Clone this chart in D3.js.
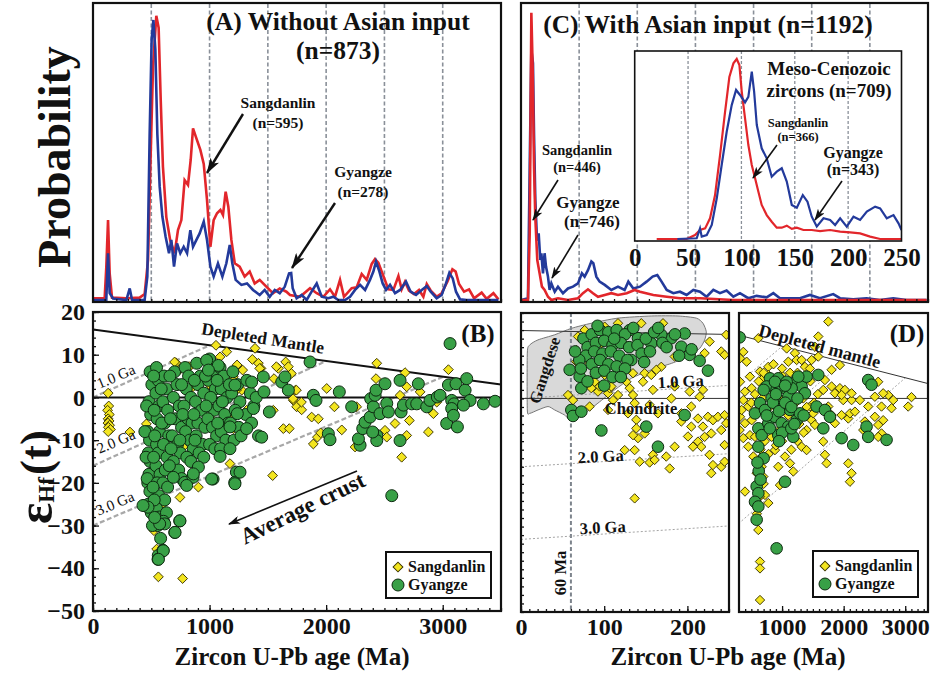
<!DOCTYPE html>
<html>
<head>
<meta charset="UTF-8">
<script src="https://d3js.org/d3.v7.min.js"></script>
<style>
  body { margin: 0; background: #fff; }
  svg text { font-family: "Liberation Serif", "Times New Roman", serif; font-weight: bold; fill: #111; }
</style>
</head>
<body>
<div id="chart"></div>
<script>
// ---- probability curves, [age Ma, relative probability 0-100] ----
const redA = [[0,0.6],[100,0.6],[114,11],[129,27],[143,9],[163,0.8],[286,0.6],[400,0.8],[443,2],[472,13.5],[492,45],[515,79],[543,96],[563,92],[581,67.5],[600,45],[629,28],[663,20],[700,15.8],[729,23.6],[758,27],[786,40.5],[815,38.9],[838,47.3],[858,58],[887,54.6],[921,50.7],[950,46],[978,33.8],[1007,18],[1035,27],[1064,29.3],[1093,30.4],[1115,28.7],[1138,36.6],[1161,31.5],[1187,20.3],[1216,12.4],[1258,11.3],[1301,7.9],[1344,9.6],[1387,5.6],[1430,6.8],[1487,4.5],[1544,2.3],[1602,3.9],[1659,2.8],[1690,1.7],[1776,1.1],[1862,4],[1919,2.3],[1976,1.1],[2033,3.6],[2076,1.1],[2119,6.8],[2153,1.1],[2219,4],[2262,4.3],[2305,8.8],[2348,6.8],[2391,12.2],[2419,13.8],[2448,12.6],[2491,8.1],[2534,3.6],[2577,3.4],[2620,8.1],[2648,3.6],[2677,6.2],[2711,3.2],[2754,2],[2797,3.4],[2834,1.1],[2863,5.4],[2897,3.2],[2948,1.1],[2991,2.3],[3040,6.2],[3083,10.4],[3111,9.6],[3140,5.4],[3183,2.8],[3226,3.6],[3269,0.6],[3334,2.5],[3377,0.4],[3435,2.3],[3478,0.2]];
const blueA = [[0,0],[114,0],[129,15.8],[143,2.3],[172,0.5],[286,0],[315,3.9],[335,0],[443,0],[466,7.9],[486,56],[503,88],[518,94.6],[535,84.5],[552,56],[572,38.3],[595,28.2],[623,21.4],[652,15.8],[672,20.3],[695,11.3],[721,19.1],[749,15.8],[778,18],[807,15.8],[835,23.6],[858,18],[887,20.3],[915,22.5],[950,26.5],[978,20.3],[1007,11.3],[1035,7.9],[1072,12.4],[1110,7.9],[1144,12.4],[1173,18.6],[1195,12.4],[1224,6.8],[1273,5.1],[1321,5.6],[1373,3.4],[1430,1.7],[1473,3.4],[1516,1.1],[1559,3.4],[1602,2.3],[1645,4.5],[1682,9],[1700,9.1],[1713,4],[1747,0.6],[1790,1.7],[1833,0],[1884,3.4],[1919,5.6],[1962,1.1],[2019,0.6],[2062,1.1],[2105,0],[2162,0],[2205,1.1],[2248,3.4],[2291,5.1],[2334,3.4],[2376,6.8],[2405,9.6],[2428,13],[2457,9.6],[2485,5.6],[2514,3.4],[2548,5.1],[2591,2.3],[2634,3.4],[2685,6.2],[2725,2.8],[2771,1.7],[2820,3.4],[2863,4.7],[2897,2.8],[2948,0.6],[2991,1.7],[3028,5.6],[3057,9.2],[3086,7.3],[3114,2.8],[3149,0.2],[3206,0],[3478,0]];
const redC = [[0,0],[60,0],[75,22.5],[89,97],[100,79],[112,45],[123,28],[140,13.5],[160,9],[180,4.5],[203,3.4],[232,1.1],[261,0],[318,0.6],[404,0],[490,0.6],[533,2.3],[576,3.6],[619,2.3],[662,1.1],[720,1.7],[777,2.3],[834,1.7],[909,2.3],[977,3.4],[1023,2.8],[1138,1.7],[1253,1.1],[1367,0.6],[1539,0.6],[1826,0],[2399,0],[3488,0]];
const blueC = [[0,0],[60,0.6],[75,45],[89,84.5],[103,80],[112,56],[123,34],[138,20],[152,22.5],[166,13.5],[175,15.8],[189,9],[203,15.8],[215,11.3],[232,7.9],[246,3.4],[261,5.6],[290,2.8],[318,4.5],[361,2.3],[404,3.9],[447,4.5],[490,5.6],[524,9],[547,7.9],[576,10.1],[605,13],[622,12.4],[648,7.9],[676,6.2],[720,5.1],[777,3.4],[834,4.5],[891,3.4],[923,6.2],[966,3.9],[1023,4.5],[1080,6.2],[1132,7.9],[1172,8.4],[1209,6.2],[1253,3.4],[1310,2.3],[1367,2.8],[1424,1.7],[1482,3.4],[1539,2.8],[1596,1.1],[1654,3.4],[1711,2.3],[1768,3.2],[1826,1.1],[1883,2.3],[1955,0.6],[2026,1.4],[2112,0.9],[2170,2.3],[2227,0.6],[2313,0.6],[2399,0.6],[2485,1.7],[2571,0.6],[2685,2],[2743,0.6],[2857,0.2],[2972,0.6],[3087,0],[3201,0.6],[3316,0],[3488,0]];
const redInset = [[20.6,0],[48.7,0],[56.5,2.2],[61.2,5],[66,5.9],[70.6,11.5],[75.3,24.4],[80,46.7],[84.7,70.7],[88.7,90],[92.5,97.6],[95.6,100],[98.1,96.7],[100.3,81.9],[103.4,67],[106.5,52.2],[109.7,41.1],[112.8,33.7],[115.9,26.3],[119,18.9],[123.7,13.3],[128.4,9.6],[133.1,6.3],[137.8,6.3],[142.5,7.4],[147.2,5.6],[151.9,6.3],[158.1,5],[165.9,5],[173.7,4.4],[183.1,5],[192.5,4.1],[201.9,3.7],[211.2,3.1],[220.6,1.3],[230,0],[250,0]];
const blueInset = [[40,0],[58.1,0.4],[61.2,5.9],[62.8,1.3],[67.5,2.2],[72.2,7.8],[76.9,22.6],[81.5,41.1],[86.2,59.6],[90.9,74.4],[95,82.8],[98.7,80],[103.4,75.9],[106.5,79],[109.7,93],[111.9,81.9],[114.4,63.3],[119,50.4],[123.7,44.8],[128.4,34.6],[133.1,37.4],[137.8,39.3],[142.5,31.9],[147.2,18.9],[151.9,17.4],[157.5,24.4],[161.9,20.7],[165.9,12.4],[170.6,6.9],[176.9,11.5],[183.1,10.6],[187.8,7.8],[192.5,11.5],[198.7,6.9],[205,12.4],[211.2,10.6],[217.5,15.2],[225.3,18],[230,17],[236.2,11.5],[242.5,13.3],[247.2,8.7],[250,5]];

// ---- Hf isotopes, [age Ma, eHf(t)] ----
const sangB = [[130,1],[135,-2],[125,-3],[140,-4],[130,-5],[138,-5.5],[128,-6],[142,-6.5],[132,-7],[150,-7.5],[130,-8],[317,-8.1],[503,6.4],[712,8.1],[818,7.2],[1055,12.2],[1147,10.7],[1238,7.5],[1284,6.4],[1390,11.5],[1367,8.9],[1419,8],[1441,6.8],[1553,4.4],[1590,6.8],[1653,8.3],[1676,7.2],[1547,-3],[1633,-7.3],[1684,-7.3],[1736,1.7],[1719,-0.7],[1747,-2.2],[1790,-2.9],[1541,-18.3],[1876,-4.6],[1933,-5],[1890,-10.9],[1925,-9.3],[1953,-8.3],[2005,2.1],[2071,-2.2],[2134,-7.6],[2262,-2.2],[2248,-11.6],[2434,8],[2428,4.4],[2505,-7.7],[2520,-9.3],[2591,-6.1],[2634,0.5],[2677,5.8],[2691,2.5],[2648,-14],[2691,-8.9],[2714,-5.4],[2806,1.3],[2877,-8.1],[2920,-3.8],[3049,6.5],[2949,-1.1],[904,-21],[746,-23.4],[523,-31.2],[546,-35.5],[561,-42],[769,-42.4],[918,4.4],[1204,4.8],[1190,-3.8],[1175,-15.5],[1204,-7.3],[1318,-3],[1276,1.7],[1090,9.5],[700,8.3],[829,7.2],[744,6.5],[1236,7.6],[1430,6.8],[1573,7.2],[1702,5.6],[1745,1.7],[1788,-1.1],[1716,-0.3],[858,2.5],[1001,2.9],[1230,1.7],[1230,-6.9],[1001,-4.6],[772,-11.6],[686,-14.8],[600,-24.9],[715,-17.1],[492,-19.5],[458,-6.2]];
const gyanB = [[490,6],[505,3],[480,-1],[495,-4],[470,-8],[485,-10],[475,-13],[490,-15],[480,-18],[470,-20],[488,-22],[475,-25],[500,-27],[465,-19],[455,-14],[445,-8],[460,-2],[545,7],[560,4],[540,1],[565,-2],[550,-5],[570,-8],[545,-11],[560,-13],[540,-16],[575,-18],[550,-20],[565,-23],[545,-26],[570,-28],[555,-30],[580,-33],[560,-37],[610,5],[630,2],[600,-1],[640,-3],[615,-6],[650,-9],[605,-11],[635,-14],[620,-17],[600,-20],[640,-21],[615,-24],[630,-27],[605,-29],[700,6],[720,3],[690,0],[740,-2],[705,-5],[760,-7],[680,-9],[725,-11],[750,-13],[690,-15],[735,-17],[760,-19],[790,7],[820,5],[800,2],[840,0],[780,-2],[815,-5],[850,-6],[795,-8],[830,-10],[860,-12],[805,-14],[840,-15],[890,8],[920,5],[900,3],[950,1],[880,-1],[930,-3],[900,-6],[960,-7],[885,-9],[940,-11],[910,-13],[950,-14],[1000,9],[1030,6],[990,4],[1050,2],[1010,0],[1040,-3],[985,-5],[1025,-7],[1060,-9],[1000,-11],[1045,-12],[1090,7],[1120,5],[1100,2],[1150,0],[1080,-2],[1130,-4],[1160,-6],[1100,-8],[1140,-10],[1095,-12],[1200,6],[1240,3],[1190,1],[1260,-1],[1220,-3],[1180,-6],[1250,-7],[1210,-10],[1270,-9],[1320,4],[1350,1],[1380,-2],[1310,-4],[1360,-6],[1400,0],[1420,-9],[520,5],[525,-3],[530,-9],[520,-14],[515,-21],[525,-24],[510,-30],[590,-6],[585,2],[660,5],[665,-5],[670,-12],[655,-16],[760,3],[770,-4],[745,-10],[870,4],[865,-4],[875,-10],[970,-2],[965,5],[1070,-6],[1065,4],[1170,3],[1110,-1],[1230,-17.5],[1216,-19.9],[1030,-19.1],[786,-19.9],[858,-18.7],[744,-28.9],[701,-31.6],[601,-35.8],[558,-37.9],[615,-29.6],[572,-29.6],[529,-28.1],[472,-25.7],[429,-25.3],[1862,8.3],[1890,0.5],[1913,-0.7],[2019,-8.5],[2033,-9.9],[2113,1.3],[2219,-2.2],[2291,-11.2],[2277,-9.7],[2314,-7.3],[2334,-5.8],[2377,-4.6],[2382,-0.3],[2405,-2.2],[2420,0.5],[2428,1.7],[2462,-3.8],[2434,-8.9],[2434,-10.1],[2399,-8.1],[2505,3.2],[2520,-1.4],[2534,-3.4],[2563,-23],[2634,4],[2643,-3.4],[2634,-10.1],[2663,-1.8],[2734,-1.5],[2791,3.2],[2777,-1.5],[2863,-2.2],[2891,-0.7],[2954,0.1],[2977,0.5],[3034,-6.1],[3063,12.6],[3049,2.9],[3077,-0.7],[3097,-1.5],[3077,-2.6],[3092,-4.2],[3114,3.2],[3126,-6.9],[3192,1.7],[3206,4.4],[3235,-0.7],[3178,-1.8],[3349,-1.5],[3449,-0.9],[1619,3.6],[1647,4.8],[1676,1.7],[1461,4.8],[1467,1.3],[1513,-3.4],[1361,3.6],[1376,-2.6],[1447,-9.3],[1318,-7.3],[1218,-20.2],[1261,-17.5],[1018,-19.1],[1090,-13.8],[1175,-12],[904,-16.3],[861,-17.9],[804,-20.6],[689,-18.7],[704,-31.6],[746,-28.9],[603,-35.9],[561,-37.9],[1218,2.9],[1238,-3.8],[1175,-6.9],[1075,7.5],[975,8.7],[990,6.4]];
const sangD = [[56.5,0.8],[62.5,-0.4],[66.5,11.3],[84.5,2.4],[92.5,1.6],[94.5,2.8],[104.6,1.2],[106.6,2.4],[110.6,-0.4],[108.6,2.8],[82.5,-1.9],[104.6,-2.7],[116.6,0.8],[126.6,3.9],[130.6,2.4],[128.6,-3.5],[134.6,0.8],[136.6,-1.1],[138.6,-5],[146.6,3.9],[148.6,5.9],[156.6,5.5],[154.6,-1.5],[158.6,2],[138.6,-7],[140.6,-9.3],[134.6,-8.6],[148.6,-8.2],[136.6,-12.1],[124.6,-12.1],[142.6,-14.8],[154.6,-15],[158.6,-13.2],[160.6,-14.4],[174.6,-13.6],[178.7,-16.4],[184.7,-11.3],[136.6,-23.4],[164.6,-3.5],[168.6,7.4],[180.7,0],[192.7,-3.5],[202.7,1.6],[204.7,-1.9],[214.7,0.4],[218.7,2],[184.7,2.8],[192.7,-5.4],[200.7,-8.9],[204.7,-6.6],[212.7,-4.7],[218.7,-6.6],[224.7,-4.3],[230.7,-5.1],[236.7,-4.3],[244.7,-3.9],[246.7,-5.8],[220.7,-9],[228.7,-8.2],[212.7,-10.1],[216.7,-11.3],[240.7,-7.4],[206.7,-11.3],[226.7,-13.2],[230.7,-15.6],[240.7,-16],[244.7,-14.8],[228.7,-17.5],[244.7,-10.9],[226.7,13.3],[240.7,11],[246.7,14.9],[244.7,10.2],[220.7,10.6],[144.6,17.6],[170.7,17.6],[116.6,17.6],[100.6,16.8],[66.5,8.6],[68.5,14.5],[76.5,16],[86.5,15.2],[96.6,12.9],[82.5,8.2],[106.6,10.9],[126.6,12.1],[134.6,5.9],[162.6,6.7],[184.7,9.8],[88.5,3.9],[100.6,5.5]];
const gyanD = [[58.5,6.7],[70.5,5.1],[72.5,2.4],[60.5,-2.7],[62.5,-4.1],[72.5,-3.1],[96.6,-7.5],[150.6,-6.6],[164.6,-11.3],[196.7,-3.9],[224.7,6.5],[214.7,8.8],[202.7,10.2],[196.7,15.2],[192.7,12.1],[180.7,14.1],[168.6,14.9],[156.6,12.9],[140.6,14.1],[130.6,16],[132.6,9],[116.6,14.5],[75,14],[85,15],[95,16],[105,15.5],[115,16],[125,15],[80,12],[90,13],[100,13.5],[110,12.5],[120,13],[130,12],[78,10],[88,11],[98,10.5],[108,11],[118,10],[128,9],[85,8],[95,9],[105,8],[115,7.5],[125,7],[90,6],[100,6.5],[110,5],[70,9],[65,11],[72,7],[140,12.5],[150,14],[160,15.5],[170,13],[185,15],[145,10.5],[155,11],[175,12],[190,10],[205,11.5],[165,16.5],[135,16.5],[100,3],[80,4],[120,5],[148,8.5],[112,14],[92,17]];
const sangDR = [[1750,18],[1533,12.1],[1588,14.5],[614,14.1],[370,10.9],[424,8.6],[316,9.4],[1074,11.7],[1209,10.6],[1236,9],[1479,9],[1588,9.8],[1939,7.8],[1804,6.7],[478,5.1],[316,3.9],[397,1.6],[506,2.4],[641,6.3],[776,7.4],[722,3.5],[370,-0.4],[451,-1.9],[316,-4.3],[397,-5.8],[310,-7.4],[343,-2.7],[506,-5.1],[478,-8.6],[370,-9.3],[451,-11.3],[533,-13.6],[668,-16],[587,-17.5],[695,-18.3],[397,-21.8],[722,-22.6],[776,-24.5],[614,-30.8],[641,-38.2],[641,-39.8],[641,-47.2],[830,-9],[938,-16],[1128,-15.2],[1182,-17.1],[965,-20.3],[884,-12.1],[1047,-13.6],[1317,-11.3],[1398,-12.1],[1669,-10.1],[1696,-13.2],[1723,-15.2],[2075,-15.2],[2128,-17.5],[2102,-19.5],[1398,-7.4],[1479,-5.1],[1533,-6.2],[1858,-5.8],[1966,-3.9],[2075,-4.7],[2102,-3.5],[2183,-3.1],[2318,-7.4],[2345,-5.4],[2507,-4.3],[2561,-6.2],[2615,-8.2],[2642,-5.1],[2561,-9],[2778,-2.3],[2724,0.8],[2805,-0.4],[2399,-1.9],[2507,0.4],[2615,-1.9],[2129,-0.4],[2264,-0.4],[1993,-0.4],[1858,1.2],[1804,2.8],[1696,4.3],[1669,2],[1939,2.4],[2020,2],[2129,1.2],[2561,3.9],[2642,1.2],[3102,0.3],[3048,-1.9],[1966,0.8],[1317,9],[1371,7.4],[1452,7],[1101,8.6],[992,5.5],[776,5.5],[668,4.3],[1344,0],[1452,-1.9],[1506,-3.5],[1750,-1.9],[1804,-3.9],[500,-1],[560,1],[620,-3],[680,0],[740,-6],[800,-2],[860,2],[920,-1],[980,-7],[1040,0],[1100,-4],[1160,3],[1220,-1],[1280,-6],[1340,2],[1400,-2],[1460,4],[1520,-1],[1580,1],[620,4],[700,6],[860,8],[1000,7],[1130,6],[1250,6],[560,-9],[650,-12],[720,-10],[780,-13],[900,-11],[1000,-10],[1150,-12],[1250,-10],[1350,-8],[600,-15],[700,-20],[640,-23],[590,-27]];
const gyanDR = [[310,14.3],[803,4.7],[938,4.7],[1047,2.4],[1209,3.9],[1317,2.8],[1588,5.5],[1560,-1.9],[1696,-2.7],[1777,-4.3],[1669,-7],[641,-1.1],[560,-3.5],[722,-2.7],[614,-7],[668,-8.6],[614,-11.3],[776,-5.8],[884,-4.3],[938,-8.6],[992,-5.8],[1128,-2.7],[1101,-6.6],[1182,-9],[1236,-5.1],[1290,-3.5],[1101,0.4],[992,-1.5],[830,0],[749,2.8],[911,2],[1155,2.4],[1371,1.2],[1398,5.1],[884,3.9],[1074,3.9],[1263,5.1],[587,-20.6],[614,-22.2],[560,-24.2],[614,-25.3],[587,-28.4],[1047,-19.5],[911,-35.1],[2399,4.3],[2453,3.2],[2372,-6.6],[2399,-9],[2697,-9.7],[2156,-10.9],[1967,-9.3],[700,2],[850,-1],[950,-3],[1050,-1],[1150,-2],[1250,0],[800,-7],[1000,-8],[1150,-7],[900,1],[750,-4],[1350,-4],[1050,3],[1200,-6],[950,-10],[700,-14],[620,-17],[650,-19],[600,-15]];

// ---- reference lines and fields ----
const dmLine = [[0,15.9],[3500,3.0]];
const crustB = [[[0,0],[1000,12.2]],[[0,-16],[2000,8.5]],[[0,-30],[3000,4.8]]];
const crustD = [[[0,0],[1000,12.2]],[[0,-16],[2000,8.5]],[[0,-33],[3000,4.8]]];
const gangdese = [[7.6,10.6],[7.6,-2.7],[10.4,-3.5],[20.4,-2.7],[32.5,-1.9],[40.5,-2.7],[52.5,-3.9],[60.5,-5.2],[76.5,-3.5],[92.5,-1.1],[112.6,2],[132.6,4.7],[156.6,6.7],[180.7,8.2],[200.7,9.8],[214.7,11.7],[220.7,13.7],[222.7,15.6],[218.7,17.6],[210.7,18.8],[188.7,19.3],[156.6,19.3],[116.6,18.8],[84.5,17.6],[60.5,16.4],[40.5,14.9],[20.4,13.7],[10.4,12.5]];
const ageGrid = [500,1000,1500,2000,2500,3000];
const insetGrid = [50,100,150,200];
const insetTicks = [0,50,100,150,200,250];
const bTicksX = [0,1000,2000,3000];
const yTicks = [20,10,0,-10,-20,-30,-40,-50];
const dLeftTicks = [0,100,200];
const dRightTicks = [1000,2000,3000];

const RED = "#e2262b", BLUE = "#233a9b", YEL = "#f3e51f", GRN = "#38a046";

const svg = d3.select("#chart").append("svg").attr("width", 935).attr("height", 673);
const defs = svg.append("defs");
defs.append("marker").attr("id", "ah").attr("viewBox", "0 0 16 10")
  .attr("refX", 15).attr("refY", 5).attr("markerWidth", 16).attr("markerHeight", 10)
  .attr("markerUnits", "userSpaceOnUse").attr("orient", "auto")
  .append("path").attr("d", "M0,0L16,5L0,10L4,5Z").attr("fill", "#111");
defs.append("marker").attr("id", "ahs").attr("viewBox", "0 0 12 8")
  .attr("refX", 11).attr("refY", 4).attr("markerWidth", 12).attr("markerHeight", 8)
  .attr("markerUnits", "userSpaceOnUse").attr("orient", "auto")
  .append("path").attr("d", "M0,0L12,4L0,8L3,4Z").attr("fill", "#111");

function clip(id, x0, y0, x1, y1) {
  defs.append("clipPath").attr("id", id).append("rect")
    .attr("x", x0).attr("y", y0).attr("width", x1 - x0).attr("height", y1 - y0);
}
function frame(x0, y0, x1, y1, w) {
  svg.append("rect").attr("x", x0).attr("y", y0).attr("width", x1 - x0).attr("height", y1 - y0)
    .attr("fill", "none").attr("stroke", "#111").attr("stroke-width", w || 2.2);
}
function arrow(x1, y1, x2, y2, small) {
  svg.append("line").attr("x1", x1).attr("y1", y1).attr("x2", x2).attr("y2", y2)
    .attr("stroke", "#111").attr("stroke-width", small ? 1.6 : 2.4)
    .attr("marker-end", small ? "url(#ahs)" : "url(#ah)");
}
function label(x, y, txt, size, anchor, rot) {
  const t = svg.append("text").attr("font-size", size).attr("text-anchor", anchor || "middle").text(txt);
  t.attr("transform", `translate(${x},${y})` + (rot ? ` rotate(${rot})` : ""));
  return t;
}
function axisTicks(g, axis) {
  g.call(axis).call(s => s.select(".domain").remove());
  g.selectAll(".tick line").attr("stroke", "#111").attr("stroke-width", 1.3);
  g.selectAll(".tick text").attr("font-size", 24).attr("fill", "#111");
}
const fmt = d3.format("d");

// ================= Panel A =================
const xA = d3.scaleLinear().domain([0, 3500]).range([93, 501]);
const yA = d3.scaleLinear().domain([0, 100]).range([300, 4]);
clip("cA", 93, 3, 501, 302);
const gA = svg.append("g").attr("clip-path", "url(#cA)");
gA.selectAll("line.grid").data(ageGrid).join("line")
  .attr("x1", d => xA(d)).attr("x2", d => xA(d)).attr("y1", 4).attr("y2", 302)
  .attr("stroke", "#8a9099").attr("stroke-width", 1.6).attr("stroke-dasharray", "4,2.5");
const lineA = d3.line().x(d => xA(d[0])).y(d => yA(d[1]));
gA.append("path").datum(redA).attr("d", lineA).attr("fill", "none").attr("stroke", RED).attr("stroke-width", 2.6);
gA.append("path").datum(blueA).attr("d", lineA).attr("fill", "none").attr("stroke", BLUE).attr("stroke-width", 2.6);
axisTicks(svg.append("g").attr("transform", "translate(0,302)"),
  d3.axisBottom(xA).tickValues(d3.range(0, 3501, 100)).tickSize(-3).tickFormat(""));
frame(93, 3, 501, 302);

label(338, 30, "(A) Without Asian input", 25.5);
label(338, 59, "(n=873)", 25.5);
label(278, 108, "Sangdanlin", 15.5);
label(278, 128, "(n=595)", 15.5);
arrow(243, 114, 207, 173);
label(363, 177, "Gyangze", 15.5);
label(363, 197, "(n=278)", 15.5);
arrow(335, 203, 292, 268);

label(70, 157, "Probability", 46, "middle", -90);

// ================= Panel C =================
const xC = d3.scaleLinear().domain([0, 3500]).range([521, 928]);
clip("cC", 521, 3, 928, 302);
const gC = svg.append("g").attr("clip-path", "url(#cC)");
gC.selectAll("line.grid").data(ageGrid).join("line")
  .attr("x1", d => xC(d)).attr("x2", d => xC(d)).attr("y1", 4).attr("y2", 302)
  .attr("stroke", "#8a9099").attr("stroke-width", 1.6).attr("stroke-dasharray", "4,2.5");
const lineC = d3.line().x(d => xC(d[0])).y(d => yA(d[1]));
gC.append("path").datum(blueC).attr("d", lineC).attr("fill", "none").attr("stroke", BLUE).attr("stroke-width", 2.6);
gC.append("path").datum(redC).attr("d", lineC).attr("fill", "none").attr("stroke", RED).attr("stroke-width", 2.6);
axisTicks(svg.append("g").attr("transform", "translate(0,302)"),
  d3.axisBottom(xC).tickValues(d3.range(0, 3501, 100)).tickSize(-3).tickFormat(""));

// inset
const xIn = d3.scaleLinear().domain([0, 250]).range([634.7, 901.5]);
const yIn = d3.scaleLinear().domain([0, 100]).range([239, 59]);
svg.append("rect").attr("x", 634.7).attr("y", 51).attr("width", 901.5 - 634.7).attr("height", 190).attr("fill", "#fff");
clip("cIn", 634.7, 51, 901.5, 241);
const gIn = svg.append("g").attr("clip-path", "url(#cIn)");
gIn.selectAll("line.grid").data(insetGrid).join("line")
  .attr("x1", d => xIn(d)).attr("x2", d => xIn(d)).attr("y1", 51).attr("y2", 241)
  .attr("stroke", "#8a9099").attr("stroke-width", 1.3).attr("stroke-dasharray", "3,2");
const lineIn = d3.line().x(d => xIn(d[0])).y(d => yIn(d[1]));
gIn.append("path").datum(redInset).attr("d", lineIn).attr("fill", "none").attr("stroke", RED).attr("stroke-width", 2.2);
gIn.append("path").datum(blueInset).attr("d", lineIn).attr("fill", "none").attr("stroke", BLUE).attr("stroke-width", 2.2);
frame(634.7, 51, 901.5, 241, 1.6);
const gInAx = svg.append("g").attr("transform", "translate(0,241)");
axisTicks(gInAx, d3.axisBottom(xIn).tickValues(insetTicks).tickSize(0).tickPadding(7).tickFormat(fmt));
gInAx.selectAll(".tick text").attr("font-size", 25);

frame(521, 3, 928, 302);
label(708, 33, "(C) With Asian input (n=1192)", 25.5);
label(829, 75, "Meso-Cenozoic", 19);
label(829, 97, "zircons (n=709)", 19);
label(798, 127, "Sangdanlin", 12.5);
label(798, 141, "(n=366)", 12.5);
arrow(777, 145, 753, 178, true);
label(853, 158, "Gyangze", 16);
label(853, 175, "(n=343)", 16);
arrow(842, 181, 815, 220, true);
label(577, 155, "Sangdanlin", 14.5);
label(577, 172, "(n=446)", 14.5);
arrow(558, 180, 533, 220, true);
label(588, 208, "Gyangze", 17);
label(592, 227, "(n=746)", 17);
arrow(578, 235, 552, 278, true);

// ================= Panel B =================
const xB = xA;
const yB = d3.scaleLinear().domain([-50, 20]).range([611, 312]);
clip("cB", 93, 312, 501, 611);
const gB = svg.append("g").attr("clip-path", "url(#cB)");
const lineB = d3.line().x(d => xB(d[0])).y(d => yB(d[1]));
gB.selectAll("path.crust").data(crustB).join("path").attr("d", lineB)
  .attr("fill", "none").attr("stroke", "#a8a8a8").attr("stroke-width", 2.2).attr("stroke-dasharray", "5,2.5");
gB.append("path").datum(dmLine).attr("d", lineB).attr("fill", "none").attr("stroke", "#111").attr("stroke-width", 2);
gB.append("line").attr("x1", 93).attr("x2", 501).attr("y1", yB(0)).attr("y2", yB(0)).attr("stroke", "#111").attr("stroke-width", 2);
const diamond = d3.symbol().type(d3.symbolSquare).size(48)();
gB.selectAll("path.sang").data(sangB).join("path").attr("d", diamond)
  .attr("transform", d => `translate(${xB(d[0])},${yB(d[1])}) rotate(45)`)
  .attr("fill", YEL).attr("stroke", "#3a3300").attr("stroke-width", 0.9);
gB.selectAll("circle.gy").data(gyanB).join("circle")
  .attr("cx", d => xB(d[0])).attr("cy", d => yB(d[1])).attr("r", 6)
  .attr("fill", GRN).attr("stroke", "#0e2a10").attr("stroke-width", 1);
axisTicks(svg.append("g").attr("transform", "translate(0,611)"),
  d3.axisBottom(xB).tickValues(d3.range(0, 3501, 100)).tickSize(-3).tickFormat(""));
axisTicks(svg.append("g").attr("transform", "translate(0,611)"),
  d3.axisBottom(xB).tickValues(bTicksX).tickSize(-6).tickPadding(6).tickFormat(fmt));
axisTicks(svg.append("g").attr("transform", "translate(93,0)"),
  d3.axisLeft(yB).tickValues(d3.range(-50, 21, 2)).tickSize(-3).tickFormat(""));
axisTicks(svg.append("g").attr("transform", "translate(93,0)"),
  d3.axisLeft(yB).tickValues(yTicks).tickSize(-6).tickPadding(8).tickFormat(fmt));
frame(93, 312, 501, 611);

label(262, 344, "Depleted Mantle", 17.5, "middle", 9);
label(118, 381, "1.0 Ga", 15, "middle", -23).style("font-weight", "normal");
label(118, 446, "2.0 Ga", 15, "middle", -23).style("font-weight", "normal");
label(117, 508, "3.0 Ga", 15, "middle", -23).style("font-weight", "normal");
label(478, 342, "(B)", 25);
arrow(357, 471, 229, 524, true);
label(306, 515, "Average crust", 23, "middle", -26);

// legends
function legend(x0, y0) {
  svg.append("rect").attr("x", x0).attr("y", y0).attr("width", 105).attr("height", 46)
    .attr("fill", "#fff").attr("stroke", "#111").attr("stroke-width", 2);
  svg.append("path").attr("d", diamond).attr("transform", `translate(${x0 + 12},${y0 + 15}) rotate(45)`)
    .attr("fill", YEL).attr("stroke", "#3a3300");
  svg.append("circle").attr("cx", x0 + 12).attr("cy", y0 + 33).attr("r", 6).attr("fill", GRN).attr("stroke", "#0e2a10");
  label(x0 + 22, y0 + 20, "Sangdanlin", 16, "start");
  label(x0 + 22, y0 + 38, "Gyangze", 16, "start");
}
legend(386, 552);

// y label
const eh = svg.append("text").attr("transform", "translate(52,524) rotate(-90)").attr("font-size", 50);
eh.append("tspan").text("ε");
eh.append("tspan").attr("font-size", 23).attr("dy", 2).text("Hf");
eh.append("tspan").attr("font-size", 45).attr("dy", -3).attr("dx", 2).text("(t)");

label(292, 665, "Zircon U-Pb age (Ma)", 25);

// ================= Panel D =================
const xDL = d3.scaleLinear().domain([0, 250]).range([521, 729]);
const xDR = d3.scaleLinear().domain([300, 3370]).range([739, 928]);
const yD = d3.scaleLinear().domain([-50, 20]).range([612, 313]);
clip("cDL", 521, 313, 729, 612);
clip("cDR", 739, 313, 928, 612);
const gDL = svg.append("g").attr("clip-path", "url(#cDL)");
const gDR = svg.append("g").attr("clip-path", "url(#cDR)");
const lineDL = d3.line().x(d => xDL(d[0])).y(d => yD(d[1]));
const lineDR = d3.line().x(d => xDR(d[0])).y(d => yD(d[1]));

gDL.append("path").datum(gangdese)
  .attr("d", d3.line().x(d => xDL(d[0])).y(d => yD(d[1])).curve(d3.curveCardinalClosed.tension(0.3)))
  .attr("fill", "#d9d9d9").attr("stroke", "#777").attr("stroke-width", 1);
gDL.append("line").attr("x1", xDL(60)).attr("x2", xDL(60)).attr("y1", 313).attr("y2", 612)
  .attr("stroke", "#7d848c").attr("stroke-width", 2).attr("stroke-dasharray", "4,2.5");
[[gDL, lineDL], [gDR, lineDR]].forEach(([g, ln]) => {
  g.selectAll("path.crust").data(crustD).join("path").attr("d", ln)
    .attr("fill", "none").attr("stroke", "#9a9a9a").attr("stroke-width", 0.9).attr("stroke-dasharray", "2,2");
  g.append("path").datum(dmLine).attr("d", ln).attr("fill", "none").attr("stroke", "#333").attr("stroke-width", 1);
  g.append("path").datum([[0, 0], [3500, 0]]).attr("d", ln).attr("fill", "none").attr("stroke", "#333").attr("stroke-width", 1);
});
const diamondD = d3.symbol().type(d3.symbolSquare).size(44)();
gDL.selectAll("path.sang").data(sangD).join("path").attr("d", diamondD)
  .attr("transform", d => `translate(${xDL(d[0])},${yD(d[1])}) rotate(45)`)
  .attr("fill", YEL).attr("stroke", "#3a3300").attr("stroke-width", 0.9);
gDL.selectAll("circle.gy").data(gyanD).join("circle")
  .attr("cx", d => xDL(d[0])).attr("cy", d => yD(d[1])).attr("r", 5.8)
  .attr("fill", GRN).attr("stroke", "#0e2a10").attr("stroke-width", 1);
gDR.selectAll("path.sang").data(sangDR).join("path").attr("d", diamondD)
  .attr("transform", d => `translate(${xDR(d[0])},${yD(d[1])}) rotate(45)`)
  .attr("fill", YEL).attr("stroke", "#3a3300").attr("stroke-width", 0.9);
gDR.selectAll("circle.gy").data(gyanDR).join("circle")
  .attr("cx", d => xDR(d[0])).attr("cy", d => yD(d[1])).attr("r", 5.8)
  .attr("fill", GRN).attr("stroke", "#0e2a10").attr("stroke-width", 1);

axisTicks(svg.append("g").attr("transform", "translate(0,612)"),
  d3.axisBottom(xDL).tickValues(d3.range(0, 251, 10)).tickSize(-3).tickFormat(""));
axisTicks(svg.append("g").attr("transform", "translate(0,612)"),
  d3.axisBottom(xDL).tickValues(dLeftTicks).tickSize(-6).tickPadding(6).tickFormat(fmt));
axisTicks(svg.append("g").attr("transform", "translate(0,612)"),
  d3.axisBottom(xDR).tickValues(d3.range(400, 3371, 100)).tickSize(-3).tickFormat(""));
axisTicks(svg.append("g").attr("transform", "translate(0,612)"),
  d3.axisBottom(xDR).tickValues(dRightTicks).tickSize(-6).tickPadding(6).tickFormat(fmt));
axisTicks(svg.append("g").attr("transform", "translate(521,0)"),
  d3.axisLeft(yD).tickValues(d3.range(-50, 21, 2)).tickSize(-3).tickFormat(""));
frame(521, 313, 729, 612);
frame(739, 313, 928, 612);

label(550, 372, "Gangdese", 16.5, "middle", -72);
label(566, 573, "60 Ma", 16.5, "middle", -90);
label(681, 387, "1.0 Ga", 16.5, "middle", -3);
label(641, 414, "Chondrite", 16.5);
label(601, 462, "2.0 Ga", 16.5, "middle", -3);
label(603, 533, "3.0 Ga", 16.5, "middle", -3);
label(818, 352, "Depleted mantle", 18, "middle", 15);
label(907, 342, "(D)", 25);
legend(813, 551);
label(728, 665, "Zircon U-Pb age (Ma)", 25);
</script>
</body>
</html>
